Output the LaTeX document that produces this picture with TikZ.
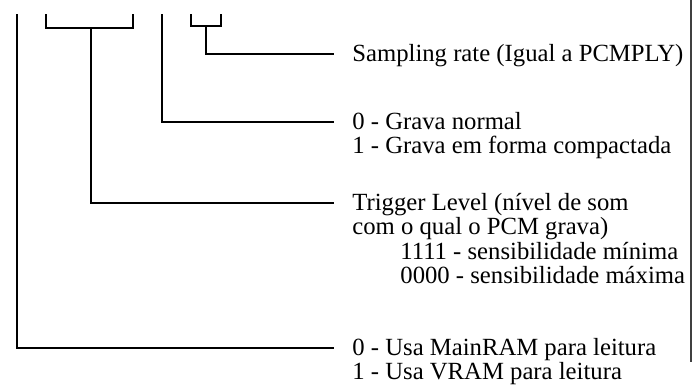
\documentclass[tikz,border=0pt]{standalone}
\usepackage{fontspec}
\setmainfont{Liberation Serif}
\begin{document}
\begin{tikzpicture}[x=0.5pt,y=-0.5pt,
  wire/.style={line width=1pt, line join=miter, line cap=rect},
  rule/.style={black!75, line width=0.7pt},
  lbl/.style={anchor=base west, inner sep=0pt, font=\fontsize{12.35}{14}\selectfont}]
\useasboundingbox (0,0) rectangle (693,386);
\fill[white] (0,0) rectangle (693,386);
% bit tops
\coordinate (b7) at (17,15);
\coordinate (b6a) at (46,15);
\coordinate (b6b) at (133,15);
\coordinate (s6) at (91,28);
\coordinate (b3) at (162,15);
\coordinate (b2a) at (191,15);
\coordinate (b2b) at (221,15);
\coordinate (s2) at (206,26);
% connector ends
\coordinate (eS) at (333,54);
\coordinate (eG) at (333,122);
\coordinate (eT) at (333,203);
\coordinate (eU) at (333,348);
% border rule
\coordinate (rt) at (691,0);
\coordinate (rb) at (691,362);
% labels
\node[lbl] (sr) at (352,61) {Sampling rate (Igual a PCMPLY)};
\node[lbl] (g0) at (352,129) {0 - Grava normal};
\node[lbl] (g1) at (352,153.5) {1 - Grava em forma compactada};
\node[lbl] (t1) at (352,210) {Trigger Level (nível de som};
\node[lbl] (t2) at (352,234.5) {com o qual o PCM grava)};
\node[lbl] (t3) at (400,259) {1111 - sensibilidade mínima};
\node[lbl] (t4) at (400,283.5) {0000 - sensibilidade máxima};
\node[lbl] (u0) at (352,355) {0 - Usa MainRAM para leitura};
\node[lbl] (u1) at (352,379.5) {1 - Usa VRAM para leitura};
% connectors
\draw[wire] (b2a) -- (b2a |- s2) -- (b2b |- s2) -- (b2b);
\draw[wire] (s2) |- (eS);
\draw[wire] (b3) |- (eG);
\draw[wire] (b6a) -- (b6a |- s6) -- (b6b |- s6) -- (b6b);
\draw[wire] (s6) |- (eT);
\draw[wire] (b7) |- (eU);
\draw[rule] (rt) -- (rb);
\end{tikzpicture}
\end{document}
